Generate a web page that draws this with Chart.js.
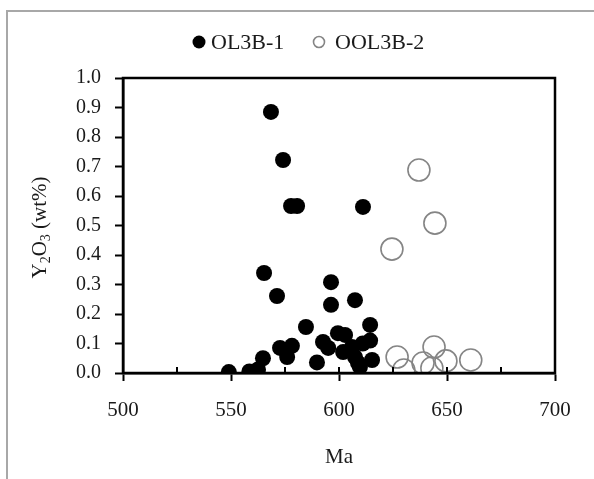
<!DOCTYPE html>
<html><head><meta charset="utf-8">
<script src="https://cdn.jsdelivr.net/npm/chart.js@4.4.1/dist/chart.umd.min.js"></script>
<style>html,body{margin:0;padding:0;background:#fff;}</style>
</head><body>
<canvas id="c" width="594" height="479" style="width:594px;height:479px;display:block"></canvas>
<script>
// ---- data ----
const seriesNames = ['OL3B-1', 'OOL3B-2'];
const ol3b1Age   = [568.5, 574.1, 577.8, 580.6, 611.1, 565.3, 571.3, 596.3, 596.3, 607.4, 584.7, 614.4,
                    572.7, 578.2, 576.0, 564.8, 549.0, 558.5, 562.5, 589.8, 592.6, 595.0, 599.5, 602.8,
                    601.9, 606.0, 607.4, 608.8, 611.0, 614.4, 615.3, 609.7];
const ol3b1Y2O3  = [0.885, 0.722, 0.566, 0.566, 0.563, 0.339, 0.261, 0.308, 0.231, 0.247, 0.156, 0.163,
                    0.085, 0.092, 0.054, 0.050, 0.003, 0.005, 0.012, 0.036, 0.105, 0.085, 0.135, 0.129,
                    0.071, 0.088, 0.054, 0.034, 0.100, 0.110, 0.044, 0.020];
const ool3b2Age  = [637.0, 644.4, 624.5, 626.9, 630.0, 638.9, 644.0, 643.0, 649.5, 661.0];
const ool3b2Y2O3 = [0.688, 0.508, 0.420, 0.054, 0.010, 0.034, 0.088, 0.017, 0.041, 0.044];
const xTicks = [500, 550, 600, 650, 700];
const xMinorTicks = [525, 575, 625, 675];
const yTicks = [0, 0.1, 0.2, 0.3, 0.4, 0.5, 0.6, 0.7, 0.8, 0.9, 1.0];
const xTitle = 'Ma';
// y title pieces: [text, isSubscript]
const yTitleParts = [['Y', false], ['2', true], ['O', false], ['3', true], [' (wt%)', false]];

const FONT = "'Liberation Serif', 'Times New Roman', serif";
const TEXT = '#1a1a1a';

const toPts = (xs, ys) => xs.map((x, i) => ({x: x, y: ys[i]}));

const framePlugin = {
  id: 'frame',
  beforeDraw(chart) {
    const ctx = chart.ctx;
    ctx.save();
    ctx.strokeStyle = '#a8a8a8';
    ctx.lineWidth = 2;
    ctx.strokeRect(7, 11, 700, 600);
    ctx.restore();
  },
  afterDatasetsDraw(chart) {
    const ctx = chart.ctx, a = chart.chartArea, xs = chart.scales.x;
    ctx.save();
    ctx.strokeStyle = '#000';
    ctx.lineWidth = 2.5;
    ctx.strokeRect(a.left, a.top, a.right - a.left, a.bottom - a.top);
    ctx.lineWidth = 2;
    ctx.beginPath();
    xMinorTicks.concat(xTicks).forEach(v => {
      const px = Math.round(xs.getPixelForValue(v));
      ctx.moveTo(px, a.bottom);
      ctx.lineTo(px, a.bottom - 6);
    });
    ctx.stroke();
    // legend
    ctx.font = '22px ' + FONT;
    ctx.textBaseline = 'middle';
    ctx.textAlign = 'left';
    const ds = chart.data.datasets;
    ctx.beginPath();
    ctx.arc(199, 42, 6.5, 0, Math.PI * 2);
    ctx.fillStyle = ds[0].backgroundColor;
    ctx.fill();
    ctx.fillStyle = TEXT;
    ctx.fillText(ds[0].label, 211, 43);
    ctx.beginPath();
    ctx.arc(319, 42, 5.5, 0, Math.PI * 2);
    ctx.strokeStyle = ds[1].borderColor;
    ctx.lineWidth = 1.6;
    ctx.stroke();
    ctx.fillText(ds[1].label, 335, 43);
    // y axis title with subscripts, rotated
    const cy = (a.top + a.bottom) / 2 + 2;
    ctx.translate(40, cy);
    ctx.rotate(-Math.PI / 2);
    const mainFont = '21px ' + FONT, subFont = '14px ' + FONT;
    let total = 0;
    yTitleParts.forEach(([t, sub]) => { ctx.font = sub ? subFont : mainFont; total += ctx.measureText(t).width; });
    let x = -total / 2;
    ctx.textBaseline = 'middle';
    ctx.fillStyle = TEXT;
    yTitleParts.forEach(([t, sub]) => {
      ctx.font = sub ? subFont : mainFont;
      ctx.fillText(t, x, sub ? 6 : 0);
      x += ctx.measureText(t).width;
    });
    ctx.restore();
  }
};

new Chart(document.getElementById('c'), {
  type: 'scatter',
  data: {
    datasets: [
      { label: seriesNames[0], data: toPts(ol3b1Age, ol3b1Y2O3),
        pointRadius: 8, pointHoverRadius: 8, backgroundColor: '#000', borderColor: '#000', borderWidth: 0 },
      { label: seriesNames[1], data: toPts(ool3b2Age, ool3b2Y2O3),
        pointRadius: 11, pointHoverRadius: 11, backgroundColor: 'rgba(0,0,0,0)', borderColor: '#858585', borderWidth: 1.6 }
    ]
  },
  options: {
    responsive: false,
    animation: false,
    layout: { padding: { top: 78, right: 39, bottom: 0, left: 0 } },
    plugins: { legend: { display: false }, tooltip: { enabled: false } },
    scales: {
      x: {
        type: 'linear', min: 500, max: 700,
        afterBuildTicks: s => { s.ticks = xTicks.map(v => ({value: v})); },
        afterFit: s => { s.height = 106; },
        ticks: { color: TEXT, font: { family: FONT, size: 21 }, padding: 17, maxRotation: 0 },
        grid: { drawOnChartArea: false, drawTicks: true, tickLength: 8, tickColor: '#000', tickWidth: 2 },
        border: { display: true, color: '#000', width: 2.5 },
        title: { display: true, text: xTitle, color: TEXT, font: { family: FONT, size: 21 }, padding: { top: 0, bottom: 9 } }
      },
      y: {
        type: 'linear', min: 0, max: 1,
        afterBuildTicks: s => { s.ticks = yTicks.map(v => ({value: v})); },
        afterFit: s => { s.width = 123; },
        ticks: { color: TEXT, font: { family: FONT, size: 20 }, padding: 14, callback: v => Number(v).toFixed(1) },
        grid: { drawOnChartArea: false, drawTicks: true, tickLength: 8, tickColor: '#000', tickWidth: 2 },
        border: { display: true, color: '#000', width: 2.5 },
        title: { display: false }
      }
    }
  },
  plugins: [framePlugin]
});
</script>
</body></html>
